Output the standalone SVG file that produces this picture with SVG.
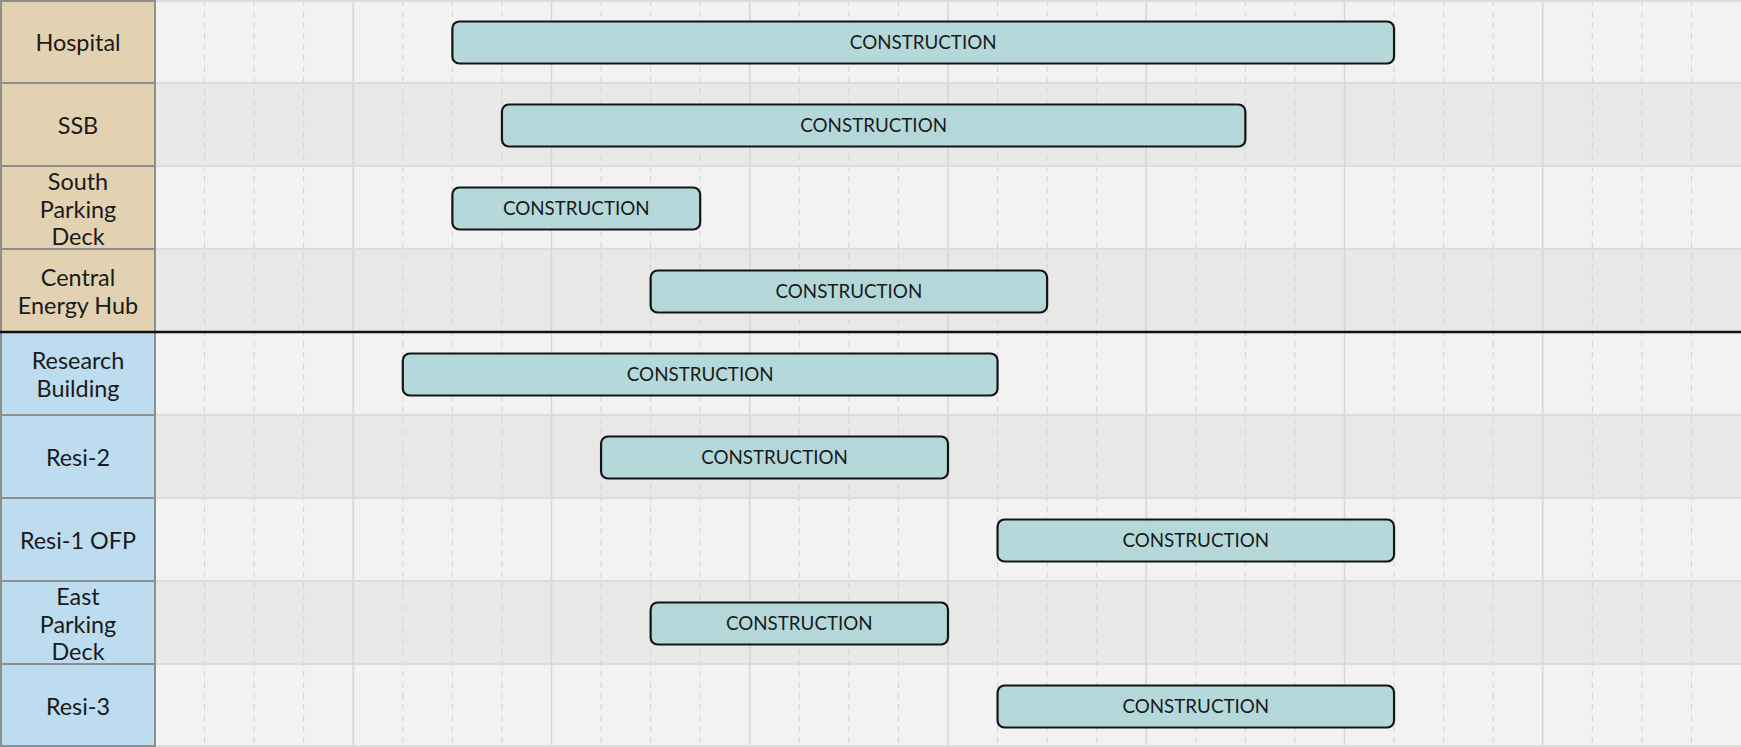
<svg xmlns="http://www.w3.org/2000/svg" width="1741" height="747" viewBox="0 0 1741 747">
<style>
.lbl{font-family:Lato,"Open Sans","Liberation Sans",sans-serif;font-size:23.4px;fill:#1a1a1a;text-anchor:middle}
.bt{font-family:Lato,"Open Sans","Liberation Sans",sans-serif;font-size:18.8px;fill:#1a1a1a;text-anchor:middle}
.bar{fill:#aed6d8;fill-opacity:0.9;stroke:#141414;stroke-width:2.2}
.tan{fill:#e2d2b2}
.blue{fill:#bddcf0}
.rowA{fill:#f2f2f2}
.rowB{fill:#e8e8e7}
.gd{stroke:#d3d3d3;stroke-width:1;stroke-dasharray:6 5}
.gs{stroke:#d6d6d6;stroke-width:1.6}
.rb{stroke:#dcdcdc;stroke-width:2}
.lb{stroke:#8e8e8e;stroke-width:2}
</style>
<rect x="0" y="0" width="1741" height="747" fill="#f2f2f2"/>
<g id="rows">
<rect class="rowA" x="155" y="0" width="1586" height="83"/>
<rect class="rowB" x="155" y="83" width="1586" height="83"/>
<rect class="rowA" x="155" y="166" width="1586" height="83"/>
<rect class="rowB" x="155" y="249" width="1586" height="83"/>
<rect class="rowA" x="155" y="332" width="1586" height="83"/>
<rect class="rowB" x="155" y="415" width="1586" height="83"/>
<rect class="rowA" x="155" y="498" width="1586" height="83"/>
<rect class="rowB" x="155" y="581" width="1586" height="83"/>
<rect class="rowA" x="155" y="664" width="1586" height="83"/>
</g>
<g id="grid">
<line class="gd" x1="204.56" y1="0" x2="204.56" y2="747"/>
<line class="gd" x1="254.13" y1="0" x2="254.13" y2="747"/>
<line class="gd" x1="303.69" y1="0" x2="303.69" y2="747"/>
<line class="gs" x1="353.25" y1="0" x2="353.25" y2="747"/>
<line class="gd" x1="402.81" y1="0" x2="402.81" y2="747"/>
<line class="gd" x1="452.38" y1="0" x2="452.38" y2="747"/>
<line class="gd" x1="501.94" y1="0" x2="501.94" y2="747"/>
<line class="gs" x1="551.5" y1="0" x2="551.5" y2="747"/>
<line class="gd" x1="601.06" y1="0" x2="601.06" y2="747"/>
<line class="gd" x1="650.63" y1="0" x2="650.63" y2="747"/>
<line class="gd" x1="700.19" y1="0" x2="700.19" y2="747"/>
<line class="gs" x1="749.75" y1="0" x2="749.75" y2="747"/>
<line class="gd" x1="799.31" y1="0" x2="799.31" y2="747"/>
<line class="gd" x1="848.88" y1="0" x2="848.88" y2="747"/>
<line class="gd" x1="898.44" y1="0" x2="898.44" y2="747"/>
<line class="gs" x1="948" y1="0" x2="948" y2="747"/>
<line class="gd" x1="997.56" y1="0" x2="997.56" y2="747"/>
<line class="gd" x1="1047.13" y1="0" x2="1047.13" y2="747"/>
<line class="gd" x1="1096.69" y1="0" x2="1096.69" y2="747"/>
<line class="gs" x1="1146.25" y1="0" x2="1146.25" y2="747"/>
<line class="gd" x1="1195.81" y1="0" x2="1195.81" y2="747"/>
<line class="gd" x1="1245.38" y1="0" x2="1245.38" y2="747"/>
<line class="gd" x1="1294.94" y1="0" x2="1294.94" y2="747"/>
<line class="gs" x1="1344.5" y1="0" x2="1344.5" y2="747"/>
<line class="gd" x1="1394.06" y1="0" x2="1394.06" y2="747"/>
<line class="gd" x1="1443.63" y1="0" x2="1443.63" y2="747"/>
<line class="gd" x1="1493.19" y1="0" x2="1493.19" y2="747"/>
<line class="gs" x1="1542.75" y1="0" x2="1542.75" y2="747"/>
<line class="gd" x1="1592.31" y1="0" x2="1592.31" y2="747"/>
<line class="gd" x1="1641.88" y1="0" x2="1641.88" y2="747"/>
<line class="gd" x1="1691.44" y1="0" x2="1691.44" y2="747"/>
<line class="rb" x1="155" y1="1" x2="1741" y2="1"/>
<line class="rb" x1="155" y1="83" x2="1741" y2="83"/>
<line class="rb" x1="155" y1="166" x2="1741" y2="166"/>
<line class="rb" x1="155" y1="249" x2="1741" y2="249"/>
<line class="rb" x1="155" y1="415" x2="1741" y2="415"/>
<line class="rb" x1="155" y1="498" x2="1741" y2="498"/>
<line class="rb" x1="155" y1="581" x2="1741" y2="581"/>
<line class="rb" x1="155" y1="664" x2="1741" y2="664"/>
<line class="rb" x1="155" y1="746" x2="1741" y2="746"/>
</g>
<g id="labels">
<g id="label-hospital"><rect class="tan" x="1" y="1" width="154" height="82"/><text class="lbl" x="78" y="51">Hospital</text></g>
<g id="label-ssb"><rect class="tan" x="1" y="83" width="154" height="83"/><text class="lbl" x="78" y="134">SSB</text></g>
<g id="label-south-parking"><rect class="tan" x="1" y="166" width="154" height="83"/><text class="lbl" x="78" y="190">South</text><text class="lbl" x="78" y="217.5">Parking</text><text class="lbl" x="78" y="245">Deck</text></g>
<g id="label-central-energy"><rect class="tan" x="1" y="249" width="154" height="83"/><text class="lbl" x="78" y="286.3">Central</text><text class="lbl" x="78" y="313.8">Energy Hub</text></g>
<g id="label-research"><rect class="blue" x="1" y="332" width="154" height="83"/><text class="lbl" x="78" y="369.3">Research</text><text class="lbl" x="78" y="396.8">Building</text></g>
<g id="label-resi2"><rect class="blue" x="1" y="415" width="154" height="83"/><text class="lbl" x="78" y="466">Resi-2</text></g>
<g id="label-resi1"><rect class="blue" x="1" y="498" width="154" height="83"/><text class="lbl" x="78" y="549">Resi-1 OFP</text></g>
<g id="label-east-parking"><rect class="blue" x="1" y="581" width="154" height="83"/><text class="lbl" x="78" y="605">East</text><text class="lbl" x="78" y="632.5">Parking</text><text class="lbl" x="78" y="660">Deck</text></g>
<g id="label-resi3"><rect class="blue" x="1" y="664" width="154" height="82"/><text class="lbl" x="78" y="715">Resi-3</text></g>
<line class="lb" x1="1" y1="0" x2="1" y2="747"/>
<line class="lb" x1="155" y1="0" x2="155" y2="747"/>
<line class="lb" x1="0" y1="1" x2="155" y2="1"/>
<line class="lb" x1="0" y1="83" x2="155" y2="83"/>
<line class="lb" x1="0" y1="166" x2="155" y2="166"/>
<line class="lb" x1="0" y1="249" x2="155" y2="249"/>
<line class="lb" x1="0" y1="415" x2="155" y2="415"/>
<line class="lb" x1="0" y1="498" x2="155" y2="498"/>
<line class="lb" x1="0" y1="581" x2="155" y2="581"/>
<line class="lb" x1="0" y1="664" x2="155" y2="664"/>
<line class="lb" x1="0" y1="746" x2="155" y2="746"/>
</g>
<g id="connectors">
<line x1="0" y1="332" x2="1741" y2="332" stroke="#111" stroke-width="2.6"/>
</g>
<g id="bar-hospital"><rect class="bar" x="452.38" y="21.5" width="941.68" height="42" rx="7"/><text class="bt" x="923.22" y="49.3">CONSTRUCTION</text></g>
<g id="bar-ssb"><rect class="bar" x="501.94" y="104.5" width="743.44" height="42" rx="7"/><text class="bt" x="873.66" y="132.3">CONSTRUCTION</text></g>
<g id="bar-south-parking"><rect class="bar" x="452.38" y="187.5" width="247.81" height="42" rx="7"/><text class="bt" x="576.28" y="215.3">CONSTRUCTION</text></g>
<g id="bar-central-energy"><rect class="bar" x="650.63" y="270.5" width="396.5" height="42" rx="7"/><text class="bt" x="848.88" y="298.3">CONSTRUCTION</text></g>
<g id="bar-research"><rect class="bar" x="402.81" y="353.5" width="594.75" height="42" rx="7"/><text class="bt" x="700.19" y="381.3">CONSTRUCTION</text></g>
<g id="bar-resi2"><rect class="bar" x="601.06" y="436.5" width="346.94" height="42" rx="7"/><text class="bt" x="774.53" y="464.3">CONSTRUCTION</text></g>
<g id="bar-resi1"><rect class="bar" x="997.56" y="519.5" width="396.5" height="42" rx="7"/><text class="bt" x="1195.81" y="547.3">CONSTRUCTION</text></g>
<g id="bar-east-parking"><rect class="bar" x="650.63" y="602.5" width="297.37" height="42" rx="7"/><text class="bt" x="799.31" y="630.3">CONSTRUCTION</text></g>
<g id="bar-resi3"><rect class="bar" x="997.56" y="685.5" width="396.5" height="42" rx="7"/><text class="bt" x="1195.81" y="713.3">CONSTRUCTION</text></g>
</svg>
